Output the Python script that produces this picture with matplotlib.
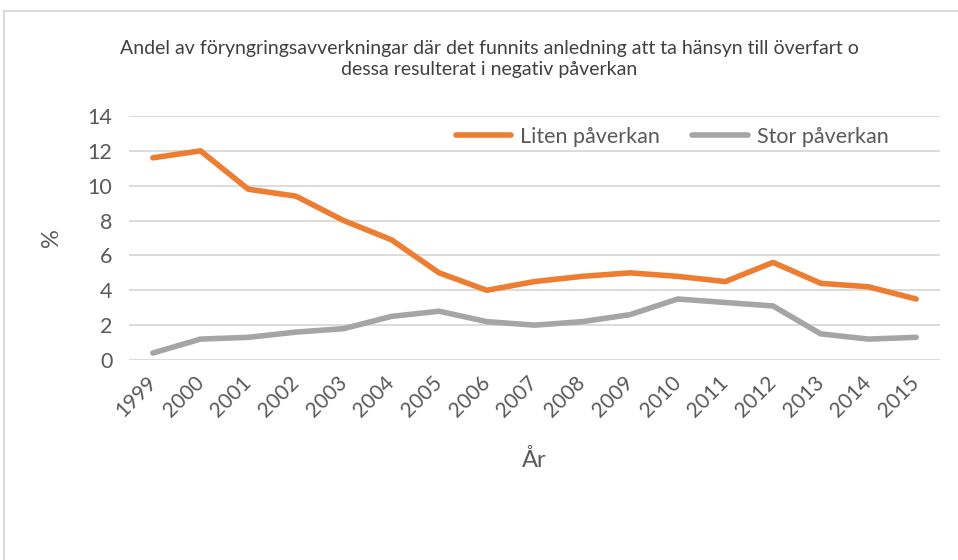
import matplotlib.pyplot as plt
from matplotlib.patches import Rectangle

years = ["1999", "2000", "2001", "2002", "2003", "2004", "2005", "2006", "2007",
         "2008", "2009", "2010", "2011", "2012", "2013", "2014", "2015"]
liten = [11.6, 12.0, 9.8, 9.4, 8.0, 6.9, 5.0, 4.0, 4.5, 4.8, 5.0, 4.8, 4.5, 5.6, 4.4, 4.2, 3.5]
stor = [0.4, 1.2, 1.3, 1.6, 1.8, 2.5, 2.8, 2.2, 2.0, 2.2, 2.6, 3.5, 3.3, 3.1, 1.5, 1.2, 1.3]

plt.rcParams["font.family"] = ["Lato", "DejaVu Sans"]
txt = "#595959"

fig = plt.figure(figsize=(9.58, 5.6), dpi=100)
# chart border (Excel style), running off the right and bottom edges
fig.add_artist(Rectangle((4 / 958, -0.1), 1.2, 1 - 11 / 560 + 0.1, transform=fig.transFigure,
                         fill=False, edgecolor="#D9D9D9", linewidth=1.5))

ax = fig.add_axes([129 / 958, 1 - 360 / 560, 811 / 958, 244 / 560])
x = range(len(years))
ax.plot(x, liten, color="#ED7D31", linewidth=4, solid_capstyle="round", label="Liten påverkan")
ax.plot(x, stor, color="#A5A5A5", linewidth=4, solid_capstyle="round", label="Stor påverkan")

ax.set_xlim(-0.5, len(years) - 0.5)
ax.set_ylim(0, 14)
ax.set_yticks(range(0, 15, 2))
ax.set_xticks(list(x))
ax.set_xticklabels(years, rotation=45, ha="right", va="center", rotation_mode="anchor")
ax.grid(axis="y", color="#D9D9D9", linewidth=1.3)
ax.set_axisbelow(True)
for s in ax.spines.values():
    s.set_visible(False)
ax.tick_params(axis="both", length=0, colors=txt)
ax.tick_params(axis="x", pad=14, labelsize=15)
ax.tick_params(axis="y", pad=12, labelsize=15.5)

ax.set_ylabel("%", color=txt, fontsize=17, labelpad=18)
ax.set_xlabel("År", color=txt, fontsize=17, labelpad=20)

fig.text(0.511, 0.894, "Andel av föryngringsavverkningar där det funnits anledning att ta hänsyn till överfart o\n"
         "dessa resulterat i negativ påverkan", ha="center", va="center", color="#404040",
         fontsize=14, linespacing=1.3)

leg = ax.legend(loc="center left", bbox_to_anchor=(0.392, 0.914), ncol=2, frameon=False,
                fontsize=15.5, handlelength=2.6, columnspacing=1.5, handletextpad=0.4,
                borderaxespad=0)
for t in leg.get_texts():
    t.set_color(txt)

fig.savefig("out.png", dpi=100, facecolor="white")
